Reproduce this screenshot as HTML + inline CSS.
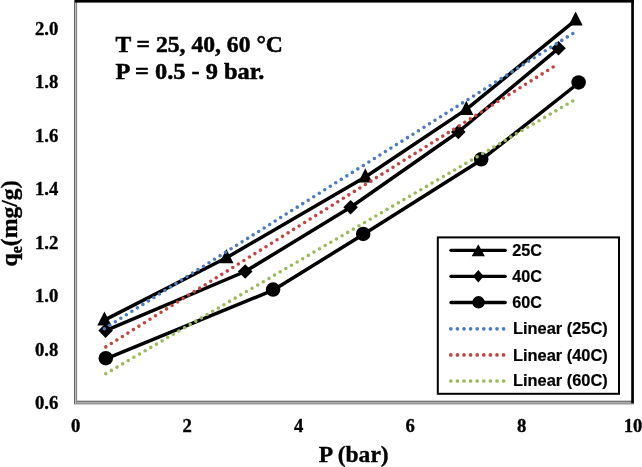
<!DOCTYPE html>
<html><head><meta charset="utf-8"><style>
html,body{margin:0;padding:0;background:#fff;width:642px;height:467px;overflow:hidden}
svg{display:block;will-change:transform}
.ser{font-family:"Liberation Serif",serif;font-weight:bold;fill:#000;stroke:#000;stroke-width:0.35px}
.san{font-family:"Liberation Sans",sans-serif;font-weight:bold;fill:#000;stroke:#000;stroke-width:0.2px}
</style></head><body>
<svg width="642" height="467" viewBox="0 0 642 467">
<rect x="0" y="0" width="642" height="467" fill="#fff"/>
<!-- bottom axis -->
<rect x="77" y="400" width="557" height="1" fill="#ccc"/>
<rect x="77" y="401" width="557" height="1" fill="#777"/>
<rect x="77" y="402" width="557" height="1" fill="#aaa"/>
<rect x="77" y="403" width="557" height="1" fill="#999"/>
<rect x="74" y="404" width="560" height="1" fill="#ccc"/>
<!-- left axis -->
<rect x="74" y="0" width="1" height="404" fill="#666"/>
<rect x="75" y="0" width="1" height="404" fill="#bbb"/>
<rect x="76" y="0" width="1" height="404" fill="#888"/>
<rect x="77" y="0" width="1" height="400" fill="#eee"/>
<!-- plot frame -->
<rect x="75" y="0" width="559" height="2.6" fill="#000"/>
<rect x="631.2" y="0" width="2.7" height="403.3" fill="#000"/>

<!-- y tick labels -->
<g class="ser" font-size="18.7" text-anchor="end">
<text x="58.3" y="34.5">2.0</text>
<text x="58.3" y="88">1.8</text>
<text x="58.3" y="141.5">1.6</text>
<text x="58.3" y="195">1.4</text>
<text x="58.3" y="248.5">1.2</text>
<text x="58.3" y="302">1.0</text>
<text x="58.3" y="355.5">0.8</text>
<text x="58.3" y="409">0.6</text>
</g>
<!-- x tick labels -->
<g class="ser" font-size="18.7" text-anchor="middle">
<text x="75.6" y="431.5">0</text>
<text x="187.1" y="431.5">2</text>
<text x="298.6" y="431.5">4</text>
<text x="410.1" y="431.5">6</text>
<text x="521.6" y="431.5">8</text>
<text x="633.1" y="431.5">10</text>
</g>
<!-- axis titles -->
<text class="ser" font-size="23" x="318.7" y="461.8" textLength="70" lengthAdjust="spacingAndGlyphs">P (bar)</text>
<text class="ser" font-size="23.7" transform="translate(17.3,266.5) rotate(-90)">q<tspan font-size="16" dy="5">e</tspan><tspan dy="-5">(mg/g)</tspan></text>

<!-- annotation -->
<text class="ser" style="stroke-width:0.5px" font-size="23.3" x="115.4" y="51.8" textLength="167.5" lengthAdjust="spacingAndGlyphs">T = 25, 40, 60 °C</text>
<text class="ser" style="stroke-width:0.5px" font-size="23.3" x="115.4" y="78.6" textLength="149" lengthAdjust="spacingAndGlyphs">P = 0.5 - 9 bar.</text>

<!-- series -->
<g fill="none" stroke="#000" stroke-width="3.5" stroke-linejoin="round">
<polyline points="104.40,320.10 226.40,257.80 365.30,177.00 466.30,109.40 575.60,20.10"/>
<polyline points="105.60,330.60 245.20,271.50 350.60,207.30 458.30,132.00 558.50,48.30"/>
<polyline points="105.80,358.80 273.10,290.20 363.20,234.50 481.20,159.90 578.60,83.00"/>
</g>
<g fill="#000">
<path d="M104.40,311.40 L111.50,325.60 L97.30,325.60Z"/>
<path d="M226.40,249.10 L233.50,263.30 L219.30,263.30Z"/>
<path d="M365.30,168.30 L372.40,182.50 L358.20,182.50Z"/>
<path d="M466.30,100.70 L473.40,114.90 L459.20,114.90Z"/>
<path d="M575.60,11.40 L582.70,25.60 L568.50,25.60Z"/>
<path d="M105.60,323.30 L112.90,330.60 L105.60,337.90 L98.30,330.60Z"/>
<path d="M245.20,264.20 L252.50,271.50 L245.20,278.80 L237.90,271.50Z"/>
<path d="M350.60,200.00 L357.90,207.30 L350.60,214.60 L343.30,207.30Z"/>
<path d="M458.30,124.70 L465.60,132.00 L458.30,139.30 L451.00,132.00Z"/>
<path d="M558.50,41.00 L565.80,48.30 L558.50,55.60 L551.20,48.30Z"/>
<circle cx="105.80" cy="358.20" r="7.25"/>
<circle cx="273.10" cy="289.60" r="7.25"/>
<circle cx="363.20" cy="233.90" r="7.25"/>
<circle cx="481.20" cy="159.30" r="7.25"/>
<circle cx="578.60" cy="82.40" r="7.25"/>
</g>
<!-- trendlines -->
<g fill="none" stroke-width="3.6" stroke-linecap="round" stroke-dasharray="0 6.515">
<line x1="104.3" y1="328.7" x2="573.2" y2="33.2" stroke="#4a7cbf"/>
<line x1="105.8" y1="346.9" x2="553.2" y2="67.0" stroke="#c4443f"/>
<line x1="105.8" y1="373.7" x2="573.2" y2="100.7" stroke="#9bbb59"/>
</g>
<!-- legend -->
<rect x="437.8" y="237.4" width="181.2" height="156.4" fill="#fff" stroke="#000" stroke-width="2"/>
<g stroke="#000" stroke-width="3.3" stroke-linecap="round">
<line x1="451" y1="250.3" x2="505.2" y2="250.3"/>
<line x1="451" y1="276.3" x2="505.2" y2="276.3"/>
<line x1="451" y1="302.5" x2="505.2" y2="302.5"/>
</g>
<g fill="#000">
<path d="M478.3,244.3 L484.9,256.3 L471.7,256.3Z"/>
<path d="M478.3,270.1 L483.7,276.3 L478.3,282.4 L472.9,276.3Z"/>
<circle cx="478.5" cy="302.3" r="6.2"/>
</g>
<g fill="none" stroke-width="3.7" stroke-linecap="round" stroke-dasharray="0 6.6">
<line x1="450.8" y1="328.8" x2="504" y2="328.8" stroke="#4a7cbf"/>
<line x1="450.8" y1="354.9" x2="504" y2="354.9" stroke="#c4443f"/>
<line x1="450.8" y1="381" x2="504" y2="381" stroke="#9bbb59"/>
</g>
<g class="san" font-size="17">
<text x="512.3" y="255.9" textLength="29.7" lengthAdjust="spacingAndGlyphs">25C</text>
<text x="512.3" y="281.9" textLength="29.7" lengthAdjust="spacingAndGlyphs">40C</text>
<text x="512.3" y="308.1" textLength="29.7" lengthAdjust="spacingAndGlyphs">60C</text>
<text x="512.9" y="334.1" textLength="94.9" lengthAdjust="spacingAndGlyphs">Linear (25C)</text>
<text x="512.9" y="360.6" textLength="94.9" lengthAdjust="spacingAndGlyphs">Linear (40C)</text>
<text x="512.9" y="386.3" textLength="94.9" lengthAdjust="spacingAndGlyphs">Linear (60C)</text>
</g>
</svg>
</body></html>
